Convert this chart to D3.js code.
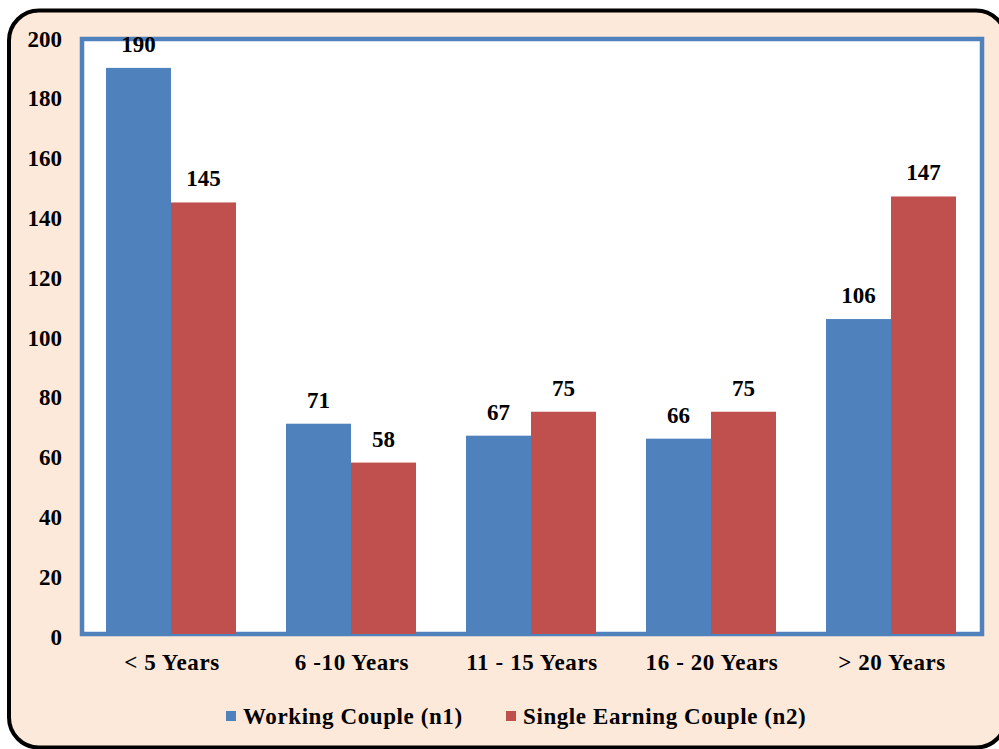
<!DOCTYPE html>
<html>
  <head>
    <meta charset="utf-8">
    <title>Years of marriage</title>
    <script src="https://d3js.org/d3.v7.min.js"></script>
    <style>
      body { margin: 0; background: #fff; }
      text { font-family: "Liberation Serif", "Times New Roman", serif; font-weight: bold; fill: #000; }
    </style>
  </head>
  <body>
    <svg id="chart" width="999" height="749"></svg>
    <script>
      // data
      var categories = ["< 5 Years", "6 -10 Years", "11 - 15 Years", "16 - 20 Years", "> 20 Years"];
      var seriesNames = ["Working Couple (n1)", "Single Earning Couple (n2)"];
      var working = [190, 71, 67, 66, 106];
      var single = [145, 58, 75, 75, 147];
      var yTicks = [0, 20, 40, 60, 80, 100, 120, 140, 160, 180, 200];
      var colours = ["#4f81bd", "#c0504d"];

      var rows = categories.map(function(c, i) {
        return { cat: c, values: [working[i], single[i]] };
      });

      var svg = d3.select("#chart");
      var plot = { left: 82, right: 982, top: 38, bottom: 636 };

      // outer frame
      svg.append("rect")
        .attr("x", 9).attr("y", 10.5)
        .attr("width", 997).attr("height", 737)
        .attr("rx", 30)
        .style("fill", "#fde9d9")
        .style("stroke", "#000")
        .style("stroke-width", 4);

      var x = d3.scaleBand().domain(categories).range([plot.left, plot.right]);
      var inner = d3.scaleBand().domain([0, 1]).range([24, x.bandwidth() - 26]);
      var y = d3.scaleLinear().domain([0, 200]).range([plot.bottom, plot.top]);

      // plot area
      svg.append("rect")
        .attr("x", plot.left).attr("y", plot.top + 1)
        .attr("width", plot.right - plot.left).attr("height", plot.bottom - plot.top - 3)
        .style("fill", "#fff")
        .style("stroke", "#4f81bd")
        .style("stroke-width", 4.5);

      // bars
      var groups = svg.append("g").selectAll("g")
        .data(rows)
        .enter().append("g")
          .attr("transform", function(d) { return "translate(" + x(d.cat) + ",0)"; });
      groups.selectAll("rect")
        .data(function(d) { return d.values; })
        .enter().append("rect")
          .attr("x", function(d, i) { return inner(i); })
          .attr("width", inner.bandwidth())
          .attr("y", function(d) { return y(d); })
          .attr("height", function(d) { return y(0) - 2 - y(d); })
          .style("fill", function(d, i) { return colours[i]; });
      groups.selectAll("text")
        .data(function(d) { return d.values; })
        .enter().append("text")
          .attr("x", function(d, i) { return inner(i) + inner.bandwidth() / 2; })
          .attr("y", function(d) { return y(d) - 16; })
          .attr("text-anchor", "middle")
          .style("font-size", "23px")
          .text(function(d) { return d; });

      // y axis
      var yAxis = d3.axisLeft(y).tickValues(yTicks).tickSize(0).tickPadding(0);
      var yg = svg.append("g").attr("transform", "translate(62,0)").call(yAxis);
      yg.select(".domain").remove();
      yg.selectAll("text").style("font-size", "23px").attr("dy", "0.35em");

      // x axis
      var xAxis = d3.axisBottom(x).tickSize(0).tickPadding(0);
      var xg = svg.append("g").attr("transform", "translate(0,654)").call(xAxis);
      xg.select(".domain").remove();
      xg.selectAll("text").style("font-size", "23px").style("letter-spacing", "0.6px").attr("dy", "0.71em");

      // legend
      var legend = svg.append("g");
      var legendX = [226, 506];
      seriesNames.forEach(function(name, i) {
        legend.append("rect")
          .attr("x", legendX[i]).attr("y", 711)
          .attr("width", 10).attr("height", 10)
          .style("fill", colours[i]);
        legend.append("text")
          .attr("x", legendX[i] + 17).attr("y", 724)
          .style("font-size", "23px")
          .style("letter-spacing", "0.6px")
          .text(name);
      });
    </script>
  </body>
</html>
